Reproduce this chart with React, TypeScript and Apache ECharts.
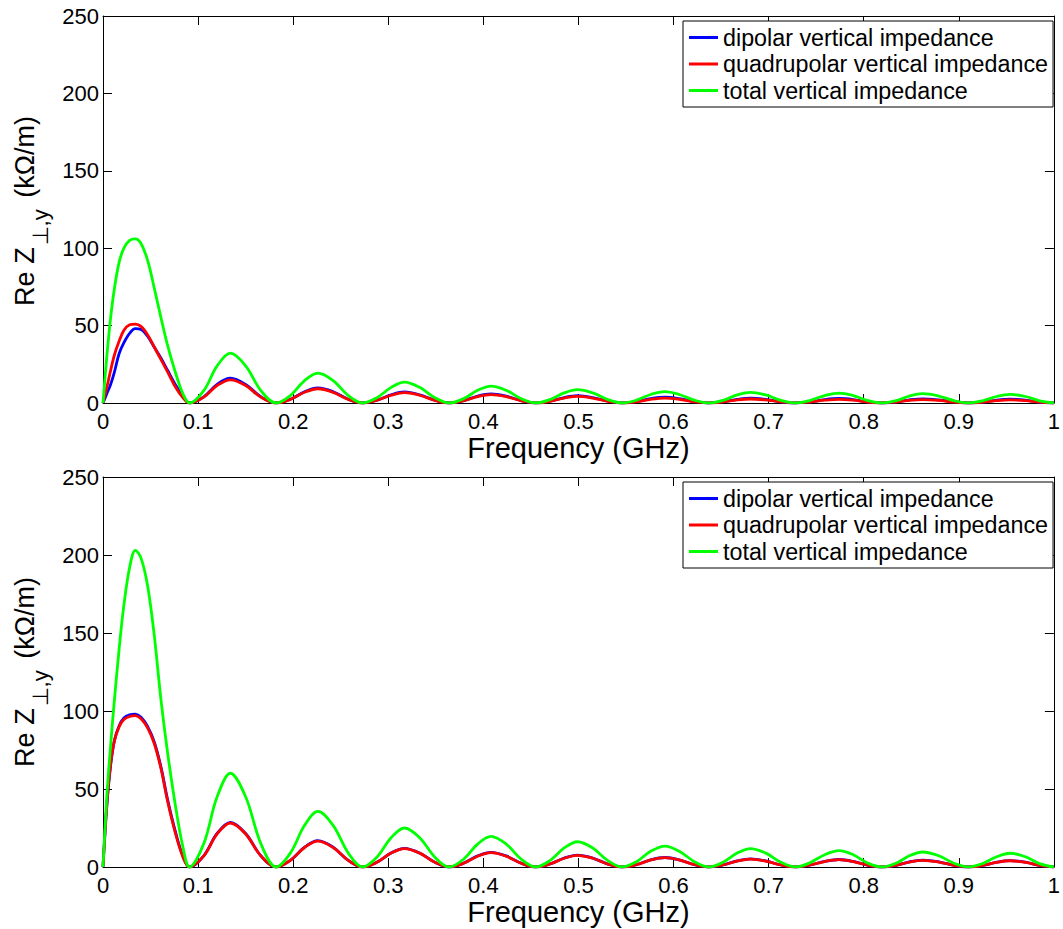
import React, { useEffect, useRef } from "react";
import * as echarts from "echarts";

const FONT = "'Liberation Sans', Arial, Helvetica, sans-serif";

// frequency samples (GHz): first lobe, then the lobes between successive zeros
const FREQ = [
  0, 0.004, 0.008, 0.012, 0.017, 0.022, 0.028, 0.034, 0.04, 0.047, 0.054, 0.061, 0.068, 0.076, 0.084,
  0.091, 0.106, 0.12, 0.134, 0.15, 0.166,
  0.182, 0.197, 0.212, 0.226, 0.242, 0.258,
  0.273, 0.288, 0.303, 0.317, 0.333, 0.349,
  0.364, 0.379, 0.394, 0.408, 0.424, 0.44,
  0.455, 0.47, 0.485, 0.499, 0.515, 0.531,
  0.546, 0.561, 0.576, 0.591, 0.606, 0.622,
  0.637, 0.652, 0.667, 0.681, 0.697, 0.713,
  0.728, 0.743, 0.759, 0.774, 0.789, 0.804,
  0.819, 0.834, 0.848, 0.862, 0.879, 0.895,
  0.91, 0.925, 0.94, 0.954, 0.97, 0.985,
  1.0,
];

// top panel (kOhm/m)
const TOP_DIPOLAR = [
  0, 6, 12, 20, 32, 39, 45, 48, 47.5, 43, 36, 29, 21, 12, 4.5,
  0, 4, 12, 16, 12, 4,
  0, 2.4, 7.3, 9.7, 7.3, 2.4,
  0, 1.8, 5.3, 7.1, 5.3, 1.8,
  0, 1.5, 4.4, 5.8, 4.4, 1.5,
  0, 1.2, 3.5, 4.7, 3.5, 1.2,
  0, 0.9, 2.8, 3.7, 2.8, 0.9,
  0, 0.8, 2.3, 3.1, 2.3, 0.8,
  0, 0.7, 2.2, 2.9, 2.2, 0.7,
  0, 0.7, 2, 2.7, 2, 0.7,
  0, 0.6, 1.9, 2.5, 1.9, 0.6,
  0,
];
const TOP_QUADRUPOLAR = [
  0, 10, 21, 31, 40, 47, 50.5, 51, 49.5, 44, 36, 28, 20, 10.5, 3.5,
  0, 3.8, 11.3, 15, 11.3, 3.8,
  0, 2.3, 6.9, 9.2, 6.9, 2.3,
  0, 1.7, 5, 6.7, 5, 1.7,
  0, 1.4, 4.1, 5.4, 4.1, 1.4,
  0, 1.1, 3.2, 4.3, 3.2, 1.1,
  0, 0.8, 2.4, 3.2, 2.4, 0.8,
  0, 0.7, 2, 2.6, 2, 0.7,
  0, 0.6, 1.8, 2.4, 1.8, 0.6,
  0, 0.6, 1.7, 2.2, 1.7, 0.6,
  0, 0.5, 1.5, 2, 1.5, 0.5,
  0,
];
const TOP_TOTAL = [
  0, 30, 55, 74, 91, 100, 105, 106, 103, 92, 74, 55, 37, 20, 6,
  0, 8, 24, 32.2, 24, 8,
  0, 4.8, 14.5, 19.3, 14.5, 4.8,
  0, 3.4, 10.1, 13.5, 10.1, 3.4,
  0, 2.7, 8.2, 10.9, 8.2, 2.7,
  0, 2.2, 6.5, 8.6, 6.5, 2.2,
  0, 1.8, 5.5, 7.3, 5.5, 1.8,
  0, 1.7, 5.2, 6.9, 5.2, 1.7,
  0, 1.6, 4.8, 6.4, 4.8, 1.6,
  0, 1.5, 4.5, 6, 4.5, 1.5,
  0, 1.4, 4.2, 5.6, 4.2, 1.4,
  0,
];

// bottom panel (kOhm/m)
const BOT_DIPOLAR = [
  0, 39, 65, 81, 90.5, 95.5, 97.5, 98, 96, 90, 80, 64, 43, 23, 7,
  0, 7.2, 21.5, 28.6, 21.5, 7.2,
  0, 4.2, 12.7, 16.9, 12.7, 4.2,
  0, 3, 9, 12, 9, 3,
  0, 2.4, 7.1, 9.4, 7.1, 2.4,
  0, 1.9, 5.7, 7.6, 5.7, 1.9,
  0, 1.5, 4.6, 6.1, 4.6, 1.5,
  0, 1.3, 3.9, 5.2, 3.9, 1.3,
  0, 1.2, 3.6, 4.8, 3.6, 1.2,
  0, 1.1, 3.3, 4.4, 3.3, 1.1,
  0, 1, 3.1, 4.1, 3.1, 1,
  0,
];
const BOT_QUADRUPOLAR = [
  0, 40, 66, 81, 90, 94.5, 96.5, 97, 95, 89, 79, 63, 42, 22, 6.5,
  0, 7.1, 21.2, 28.2, 21.2, 7.1,
  0, 4.2, 12.5, 16.6, 12.5, 4.2,
  0, 3, 8.9, 11.8, 8.9, 3,
  0, 2.3, 6.9, 9.2, 6.9, 2.3,
  0, 1.9, 5.6, 7.5, 5.6, 1.9,
  0, 1.5, 4.5, 6, 4.5, 1.5,
  0, 1.3, 3.8, 5.1, 3.8, 1.3,
  0, 1.2, 3.5, 4.7, 3.5, 1.2,
  0, 1.1, 3.2, 4.3, 3.2, 1.1,
  0, 1, 3, 4, 3, 1,
  0,
];
const BOT_TOTAL = [
  0, 45, 78, 107, 140, 168, 192, 203, 198, 180, 148, 107, 73, 40, 13,
  0, 15, 45, 60.1, 45, 15,
  0, 8.9, 26.7, 35.6, 26.7, 8.9,
  0, 6.3, 18.8, 25, 18.8, 6.3,
  0, 4.9, 14.7, 19.6, 14.7, 4.9,
  0, 4.1, 12.2, 16.2, 12.2, 4.1,
  0, 3.4, 10.1, 13.4, 10.1, 3.4,
  0, 3, 8.9, 11.8, 8.9, 3,
  0, 2.6, 7.9, 10.5, 7.9, 2.6,
  0, 2.4, 7.2, 9.6, 7.2, 2.4,
  0, 2.2, 6.6, 8.8, 6.6, 2.2,
  0,
];

const SERIES_NAMES = [
  "dipolar vertical impedance",
  "quadrupolar vertical impedance",
  "total vertical impedance",
];
const COLORS = ["#0000ff", "#ff0000", "#00ff00"];
const X_NAME = "Frequency (GHz)";
const Y_NAME_MAIN = "Re Z";
const Y_NAME_SUB = "⊥,y";
const Y_NAME_UNIT = " (kΩ/m)";

const GRIDS = [
  { left: 103, top: 16, width: 955, height: 387 },
  { left: 103, top: 477, width: 955, height: 390 },
];

function pairs(vals: number[]) {
  return FREQ.map((f, i) => [f, vals[i]]);
}

function measure(text: string, size: number) {
  const c = document.createElement("canvas").getContext("2d");
  if (!c) return text.length * size * 0.55;
  c.font = `${size}px ${FONT}`;
  return c.measureText(text).width;
}

export default function App() {
  const ref = useRef<HTMLDivElement>(null);

  useEffect(() => {
    if (!ref.current) return;
    const chart = echarts.init(ref.current, null, { renderer: "svg" });

    const axisLine = { show: true, onZero: false, lineStyle: { color: "#000", width: 1 } };
    const tick = { show: true, inside: true, length: 9, lineStyle: { color: "#000", width: 1 } };

    const xAxes: any[] = [];
    const yAxes: any[] = [];
    [0, 1].forEach((g) => {
      xAxes.push({
        type: "value", gridIndex: g, min: 0, max: 1, interval: 0.1, position: "bottom",
        axisLine, axisTick: tick, splitLine: { show: false },
        axisLabel: { color: "#000", fontSize: 22, fontFamily: FONT, margin: 7 },
        name: X_NAME, nameLocation: "middle", nameGap: 30, nameMoveOverlap: false,
        nameTextStyle: { color: "#000", fontSize: 29, fontFamily: FONT },
      });
      yAxes.push({
        type: "value", gridIndex: g, min: 0, max: 250, interval: 50, position: "left",
        axisLine, axisTick: tick, splitLine: { show: false },
        axisLabel: { color: "#000", fontSize: 22, fontFamily: FONT, margin: 4 },
      });
    });
    [0, 1].forEach((g) => {
      xAxes.push({
        type: "value", gridIndex: g, min: 0, max: 1, interval: 0.1, position: "top",
        axisLine, axisTick: tick, splitLine: { show: false }, axisLabel: { show: false },
      });
      yAxes.push({
        type: "value", gridIndex: g, min: 0, max: 250, interval: 50, position: "right",
        axisLine, axisTick: tick, splitLine: { show: false }, axisLabel: { show: false },
      });
    });

    const panels = [
      [TOP_DIPOLAR, TOP_QUADRUPOLAR, TOP_TOTAL],
      [BOT_DIPOLAR, BOT_QUADRUPOLAR, BOT_TOTAL],
    ];
    const series: any[] = [];
    panels.forEach((vals, g) => {
      vals.forEach((v, k) => {
        series.push({
          type: "line", name: SERIES_NAMES[k], xAxisIndex: g, yAxisIndex: g,
          data: pairs(v), smooth: 0.35, symbol: "none", showSymbol: false, z: 2 + k,
          lineStyle: { color: COLORS[k], width: 2.8 }, itemStyle: { color: COLORS[k] },
        });
      });
    });

    const legendBase = {
      orient: "vertical", left: 683, data: SERIES_NAMES,
      backgroundColor: "#fff", borderColor: "#000", borderWidth: 1, borderRadius: 0,
      padding: [5, 5, 5, 6], itemGap: 3.5, itemWidth: 29, itemHeight: 3,
      icon: "rect", selectedMode: false,
      textStyle: { color: "#000", fontSize: 23.3, fontFamily: FONT, lineHeight: 23 },
    };

    // rotated y-axis title with a lowered subscript
    const MAIN_SIZE = 27;
    const SUB_SIZE = 22;
    const w1 = measure(Y_NAME_MAIN, MAIN_SIZE);
    const w2 = measure(Y_NAME_SUB, SUB_SIZE) + 6;
    const w3 = measure(Y_NAME_UNIT, MAIN_SIZE);
    const total = w1 + w2 + w3;
    const start = -total / 2;
    const yLabel = (cy: number) => ({
      type: "group", x: 0, y: cy, rotation: Math.PI / 2,
      children: [
        {
          type: "text", x: start, y: 25,
          style: { text: Y_NAME_MAIN, fontSize: MAIN_SIZE, fontFamily: FONT, fill: "#000", align: "left", verticalAlign: "middle" },
        },
        {
          type: "text", x: start + w1 + 2, y: 40,
          style: { text: Y_NAME_SUB, fontSize: SUB_SIZE, fontFamily: FONT, fill: "#000", align: "left", verticalAlign: "middle" },
        },
        {
          type: "text", x: start + w1 + w2, y: 25,
          style: { text: Y_NAME_UNIT, fontSize: MAIN_SIZE, fontFamily: FONT, fill: "#000", align: "left", verticalAlign: "middle" },
        },
      ],
    });

    chart.setOption({
      animation: false,
      backgroundColor: "#fff",
      grid: GRIDS,
      xAxis: xAxes,
      yAxis: yAxes,
      legend: [
        { ...legendBase, top: 21 },
        { ...legendBase, top: 482 },
      ],
      series,
      graphic: [yLabel(211), yLabel(672)],
    });

    return () => chart.dispose();
  }, []);

  return (
    <div
      ref={ref}
      style={{ position: "absolute", left: 0, top: 0, width: 1063, height: 929, background: "#fff" }}
    />
  );
}
